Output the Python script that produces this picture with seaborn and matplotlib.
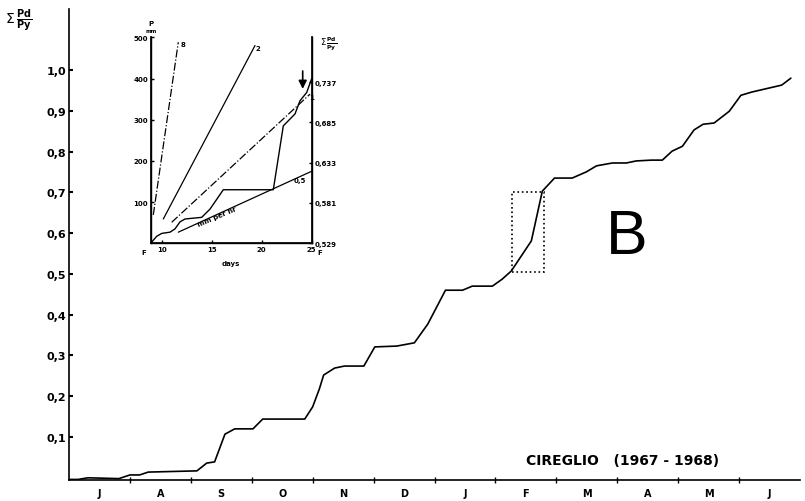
import pandas as pd
import seaborn as sns
import matplotlib.pyplot as plt
from matplotlib.patches import Rectangle

# main curve: cumulative Pd/Py, x in months from 1 July 1967
month_pos = [0.0, 0.15, 0.31, 0.82, 1.0, 1.16, 1.30, 2.10, 2.26, 2.39, 2.56, 2.72,
             3.02, 3.18, 3.87, 4.0, 4.11, 4.18, 4.36, 4.52, 4.84, 5.02, 5.38, 5.67,
             5.89, 6.18, 6.46, 6.62, 6.95, 7.11, 7.26, 7.59, 7.77, 7.97, 8.26, 8.49,
             8.66, 8.92, 9.15, 9.31, 9.56, 9.74, 9.90, 10.07, 10.26, 10.41, 10.59,
             10.84, 11.03, 11.21, 11.70, 11.85]
cum_ratio = [-0.004, -0.004, 0.0, -0.002, 0.007, 0.007, 0.014, 0.017, 0.036, 0.039,
             0.107, 0.12, 0.12, 0.144, 0.144, 0.174, 0.218, 0.252, 0.269, 0.274,
             0.274, 0.321, 0.323, 0.331, 0.377, 0.46, 0.46, 0.47, 0.47, 0.487,
             0.507, 0.581, 0.703, 0.735, 0.735, 0.75, 0.765, 0.772, 0.772, 0.777,
             0.779, 0.779, 0.801, 0.813, 0.853, 0.867, 0.87, 0.899, 0.938, 0.946,
             0.963, 0.98]
month_labels = ['J', 'A', 'S', 'O', 'N', 'D', 'J', 'F', 'M', 'A', 'M', 'J']
y_ticks = [0.1, 0.2, 0.3, 0.4, 0.5, 0.6, 0.7, 0.8, 0.9, 1.0]
y_ticklabels = ['0,1', '0,2', '0,3', '0,4', '0,5', '0,6', '0,7', '0,8', '0,9', '1,0']
# dotted box = period shown in the inset
box_x = (7.28, 7.80)
box_y = (0.505, 0.70)

# inset: cumulative rain in February (days, mm)
feb_day = [8.9, 9.5, 10.0, 10.83, 11.33, 11.83, 12.33, 14.0, 14.83, 16.16, 21.16,
           22.16, 23.33, 23.83, 24.5, 25.0]
feb_mm = [0, 17, 24, 27, 35, 52, 59, 63, 83, 130, 130, 285, 314, 346, 366, 400]
# intensity lines (mm per hr): start/end points
rate_names = ['8', '2', '1', '0,5']
rate_days = [(9.16, 11.66), (10.16, 19.33), (11.0, 24.83), (11.66, 25.1)]
rate_mm = [(69, 488), (59, 480), (51, 362), (27, 176)]
rate_styles = ['-.', '-', '-.', '-']
inset_xticks = [10, 15, 20, 25]
inset_yticks = [100, 200, 300, 400, 500]
right_ticks = [0.529, 0.581, 0.633, 0.685, 0.737]
right_ticklabels = ['0,529', '0,581', '0,633', '0,685', '0,737']

sns.set_theme(style='ticks')
plt.rcParams['font.family'] = ['DejaVu Sans']
plt.rcParams.update({'text.color': 'black', 'axes.labelcolor': 'black',
                     'xtick.color': 'black', 'ytick.color': 'black',
                     'axes.edgecolor': 'black'})

fig = plt.figure(figsize=(8.05, 5.02), dpi=100)
ax = fig.add_axes([69 / 805, 21 / 502, 731 / 805, 471 / 502])

df = pd.DataFrame({'m': month_pos, 'v': cum_ratio})
sns.lineplot(data=df, x='m', y='v', sort=False, color='black', lw=1.2, ax=ax)
ax.add_patch(Rectangle((box_x[0], box_y[0]), box_x[1] - box_x[0], box_y[1] - box_y[0],
                       fill=False, ls=':', lw=1.2, ec='black'))

ax.set_xlim(0, 12)
ax.set_ylim(-0.0054, 1.1496)
ax.set_xticks([i + 0.5 for i in range(12)])
ax.set_xticklabels(month_labels, fontsize=7, fontweight='bold')
ax.set_xticks(range(1, 12), minor=True)
ax.tick_params(axis='x', which='major', length=0, pad=6)
ax.tick_params(axis='x', which='minor', length=4, direction='inout', width=1)
ax.set_yticks(y_ticks)
ax.set_yticklabels(y_ticklabels, fontsize=8, fontweight='bold')
ax.tick_params(axis='y', length=3, direction='in', pad=2, width=1.5)
ax.set_xlabel('')
ax.set_ylabel('')
sns.despine(ax=ax)
for s in ['left', 'bottom']:
    ax.spines[s].set_linewidth(1.2)

fig.text(0.006, 0.985, r'$\Sigma\,\frac{\mathbf{Pd}}{\mathbf{Py}}$', fontsize=10,
         ha='left', va='top')
ax.text(627 / 805, 264 / 502, 'B', transform=fig.transFigure, fontsize=45,
        family='Liberation Sans', ha='center', va='center', color='black')
ax.text(623 / 805, 1 - 461 / 502, 'CIREGLIO   (1967 - 1968)', transform=fig.transFigure,
        fontsize=10, fontweight='bold', ha='center', va='center')

# inset
ins = fig.add_axes([150.7 / 805, 1 - 244.3 / 502, 161 / 805, 206 / 502])
ins.patch.set_alpha(0)
fdf = pd.DataFrame({'d': feb_day, 'p': feb_mm})
sns.lineplot(data=fdf, x='d', y='p', sort=False, color='black', lw=1.0, ax=ins)
for name, dd, pp, st in zip(rate_names, rate_days, rate_mm, rate_styles):
    ins.plot(dd, pp, color='black', lw=0.9, ls=st)
ins.text(11.9, 480, '8', fontsize=5, fontweight='bold')
ins.text(19.4, 470, '2', fontsize=5, fontweight='bold')
ins.text(24.7, 350, '1', fontsize=5, fontweight='bold')
ins.text(23.2, 150, '0,5', fontsize=5, fontweight='bold')
ins.text(15.5, 65, 'mm per hr', fontsize=5, fontweight='bold', rotation=23,
         ha='center', va='center')
ins.annotate('', xy=(24.1, 368), xytext=(24.1, 425),
             arrowprops=dict(arrowstyle='-|>', color='black', lw=1.2))
ins.set_xlim(8.9, 25)
ins.set_ylim(0, 500)
ins.set_xticks(inset_xticks)
ins.set_xticklabels([str(t) for t in inset_xticks], fontsize=5, fontweight='bold')
ins.set_yticks(inset_yticks)
ins.set_yticklabels([str(t) for t in inset_yticks], fontsize=5, fontweight='bold')
ins.tick_params(length=2, direction='in', pad=2, width=1)
ins.set_xlabel('days', fontsize=5, fontweight='bold', labelpad=6)
ins.set_ylabel('')
ins.text(8.9, 530, 'P', fontsize=5, fontweight='bold', ha='center')
ins.text(8.9, 512, 'mm', fontsize=4, fontweight='bold', ha='center')
ins.text(8.2, -15, 'F', fontsize=5, fontweight='bold', ha='center', va='top')
ins.text(25.8, -15, 'F', fontsize=5, fontweight='bold', ha='center', va='top')
ins.spines['top'].set_visible(False)
for s in ['left', 'bottom', 'right']:
    ins.spines[s].set_linewidth(1.0)

tw = ins.twinx()
tw.set_ylim(0.529, 0.529 + 0.208 * 500 / 391.5)
tw.set_yticks(right_ticks)
tw.set_yticklabels(right_ticklabels, fontsize=5, fontweight='bold')
tw.tick_params(length=2, direction='in', pad=2, width=1)
tw.spines['top'].set_visible(False)
tw.text(1.05, 0.97, r'$\Sigma\,\frac{\mathbf{Pd}}{\mathbf{Py}}$', fontsize=6,
        transform=tw.transAxes, ha='left', va='center')

fig.savefig('out.png', dpi=100)
